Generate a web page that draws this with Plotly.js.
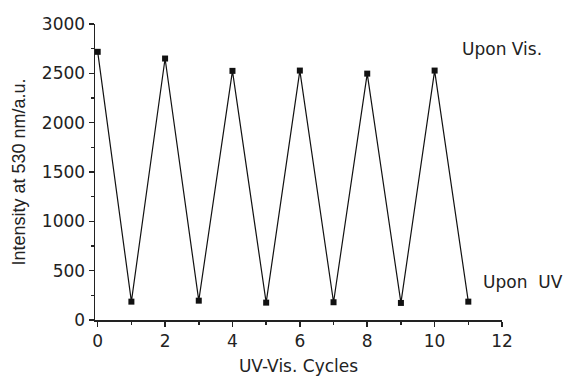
<!DOCTYPE html>
<html>
<head>
<meta charset="utf-8">
<script src="https://cdn.plot.ly/plotly-3.0.1.min.js"></script>
<style>html,body{margin:0;padding:0;background:#fff;}#chart{width:564px;height:376px;}</style>
</head>
<body>
<div id="chart"></div>
<script>
const cycles = [0, 1, 2, 3, 4, 5, 6, 7, 8, 9, 10, 11];
const intensity = [2718, 186, 2650, 196, 2525, 176, 2528, 180, 2497, 173, 2528, 186];
const annotationLabels = ["Upon Vis.", "Upon  UV"];

const trace = {
  x: cycles,
  y: intensity,
  mode: 'lines+markers',
  line: {color: '#111', width: 1.2},
  marker: {symbol: 'square', size: 6, color: '#111'},
  hoverinfo: 'none'
};

const wideFont = 'DejaVu Sans, Liberation Sans, sans-serif';
const annPos = [{x: 1.001, y: 0.9155}, {x: 1.052, y: 0.1267}];

const layout = {
  width: 564,
  height: 376,
  margin: {l: 95, r: 62, t: 24, b: 56},
  paper_bgcolor: '#fff',
  plot_bgcolor: '#fff',
  showlegend: false,
  font: {family: wideFont, size: 17, color: '#222'},
  xaxis: {
    range: [-0.08, 12],
    tick0: 0, dtick: 2,
    ticks: 'outside', ticklen: 5, tickwidth: 1.5, tickcolor: '#222',
    minor: {dtick: 1, ticks: 'outside', ticklen: 3, tickwidth: 1.5, tickcolor: '#222'},
    showline: true, linecolor: '#222', linewidth: 1.5,
    showgrid: false, zeroline: false,
    tickfont: {family: wideFont, size: 17},
    title: {text: 'UV-Vis. Cycles', font: {family: wideFont, size: 17}, standoff: 12}
  },
  yaxis: {
    range: [0, 3000],
    tick0: 0, dtick: 500,
    ticks: 'outside', ticklen: 5, tickwidth: 1.5, tickcolor: '#222',
    minor: {dtick: 250, ticks: 'outside', ticklen: 3, tickwidth: 1.5, tickcolor: '#222'},
    showline: true, linecolor: '#222', linewidth: 1.5,
    showgrid: false, zeroline: false,
    tickfont: {family: wideFont, size: 17},
    title: {text: 'Intensity at 530 nm/a.u.', font: {family: 'Liberation Sans', size: 18}, standoff: 11}
  },
  annotations: annotationLabels.map((t, i) => ({
    text: t, x: annPos[i].x, y: annPos[i].y, xref: 'paper', yref: 'paper',
    showarrow: false, xanchor: 'center', yanchor: 'middle', font: {family: wideFont, size: 17, color: '#222'}
  }))
};

Plotly.newPlot('chart', [trace], layout, {displayModeBar: false, staticPlot: true});
</script>
</body>
</html>
